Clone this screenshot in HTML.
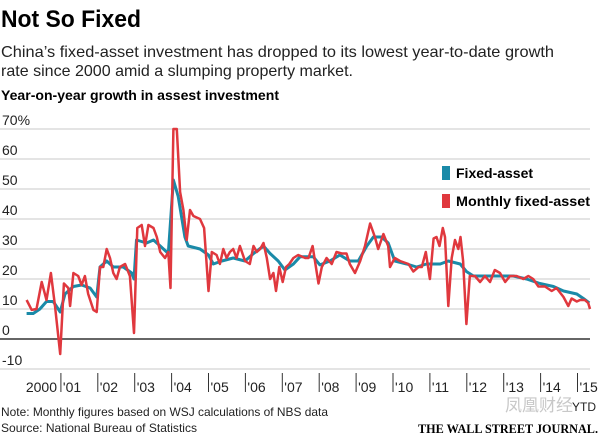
<!DOCTYPE html>
<html><head><meta charset="utf-8"><style>
html,body{margin:0;padding:0;background:#fff;}
svg{display:block;font-family:"Liberation Sans","Noto Sans CJK SC",sans-serif;}
</style></head><body>
<svg id="chart" width="600" height="435" viewBox="0 0 600 435">
<text x="1" y="27" font-size="24" font-weight="bold" textLength="140" lengthAdjust="spacingAndGlyphs">Not So Fixed</text>
<text x="1" y="57" font-size="16" fill="#222" textLength="553" lengthAdjust="spacingAndGlyphs">China’s fixed-asset investment  has dropped to its lowest year-to-date growth</text>
<text x="1" y="76" font-size="16" fill="#222" textLength="352" lengthAdjust="spacingAndGlyphs">rate since 2000 amid a slumping property market.</text>
<text x="1" y="100" font-size="14" font-weight="bold" textLength="278" lengthAdjust="spacingAndGlyphs">Year-on-year growth in assest investment</text>
<g id="grid"></g>
<g id="series"></g>
<g id="legend">
<rect x="442" y="166" width="8" height="14" fill="#1a8aa8"></rect>
<text x="456" y="178" font-size="14" font-weight="bold">Fixed-asset</text>
<rect x="442" y="194" width="8" height="14" fill="#e0383e"></rect>
<text x="456" y="206" font-size="14" font-weight="bold" textLength="134" lengthAdjust="spacingAndGlyphs">Monthly fixed-asset</text>
</g>
<text x="572" y="411" font-size="12" fill="#222">YTD</text>
<text x="505" y="411" font-size="17" fill="#c8c8c8">凤凰财经</text>
<text x="1" y="416" font-size="12" fill="#222" textLength="327" lengthAdjust="spacingAndGlyphs">Note: Monthly figures based on WSJ calculations of NBS data</text>
<text x="1" y="432" font-size="12" fill="#222" textLength="196" lengthAdjust="spacingAndGlyphs">Source: National Bureau of Statistics</text>
<text x="598" y="433" text-anchor="end" font-size="13" font-weight="bold" font-family="Liberation Serif,serif" textLength="180" lengthAdjust="spacingAndGlyphs">THE WALL STREET JOURNAL.</text>
</svg>
<script>
const yTicks = [-10, 0, 10, 20, 30, 40, 50, 60, 70];
const yearLabels = ["2000","'01","'02","'03","'04","'05","'06","'07","'08","'09","'10","'11","'12","'13","'14","'15"];
const monthlyT = [0.07,0.21,0.34,0.48,0.61,0.73,0.84,0.98,1.08,1.20,1.25,1.34,1.47,1.56,1.65,1.74,1.88,1.97,2.06,2.15,2.24,2.33,2.42,2.51,2.60,2.74,2.87,2.98,3.07,3.19,3.28,3.37,3.51,3.60,3.69,3.82,3.91,3.97,4.05,4.14,4.23,4.32,4.41,4.50,4.59,4.77,4.88,5.00,5.09,5.22,5.31,5.40,5.49,5.58,5.67,5.76,5.85,5.99,6.12,6.22,6.31,6.40,6.49,6.58,6.67,6.76,6.83,6.92,7.01,7.10,7.19,7.30,7.43,7.62,7.71,7.82,7.98,8.07,8.20,8.34,8.47,8.61,8.74,8.83,8.97,9.11,9.24,9.38,9.51,9.60,9.74,9.87,9.92,10.05,10.19,10.42,10.55,10.69,10.78,10.89,11.00,11.10,11.18,11.26,11.35,11.41,11.50,11.59,11.68,11.77,11.83,11.90,11.99,12.08,12.22,12.36,12.49,12.63,12.76,12.90,13.04,13.17,13.35,13.53,13.67,13.80,13.94,14.12,14.30,14.43,14.62,14.75,14.84,14.98,15.07,15.20,15.29,15.34];
const monthlyV = [13,9.7,10,19,13,22,11,-5,18.5,17,11,22,21,18,21,15,9.7,9,24,24,30,27,22,20,24,25,21,2,37,38,31,38,37,34,29,27,29,17,70,70,49,43,33,43,41,40,37,16,29,28,25,30,27,29,30,27,31,26,25,31,29,30,32,27,20,22,16,24,19,24,25,27,28,27,27,31,18.5,24,27,25,29,28.5,28.5,25,22,26,31,38.5,34,30,35,31,24,27,26,25,22.5,24,24,29,20,33.5,34,31,37,34,11,27,33,30,34,26,5,21,21,19,21,19,23,22,19,21,21,20,21,20,17.5,17.5,16,17,14,11,13.5,12.5,13,13,12,10];
const fixedT = [0.07,0.25,0.43,0.61,0.79,0.98,1.11,1.34,1.56,1.79,1.97,2.06,2.24,2.42,2.69,2.92,2.98,3.05,3.32,3.51,3.69,3.91,4.05,4.18,4.36,4.45,4.77,5.00,5.13,5.36,5.67,5.99,6.22,6.49,6.67,6.89,7.07,7.30,7.48,7.84,8.02,8.29,8.56,8.83,9.06,9.29,9.47,9.69,9.87,10.05,10.37,10.64,10.91,11.28,11.50,11.82,11.99,12.18,12.54,12.90,13.26,13.62,13.98,14.35,14.62,14.98,15.16,15.32];
const fixedV = [8.5,8.5,10,12.5,12.5,9,15,17.5,18,17,14,24,26,24,24,22,20,33,32,33,31,28.5,53,47.5,34,31,30,28,25,26,27,26,28.5,31,28.5,26,23,25,27.4,27.4,24.7,26,28,26,26,31,34,34,32,26,25,24,25,25,26,25,22.5,21,21,21,21,20,18.5,17.5,16,15,13.5,12];

const NS = "http://www.w3.org/2000/svg";
const x0 = 24, yearW = 36.9;
function xs(t){ return x0 + t * yearW; }
function ys(v){ return 339 - v * 3; }
function mk(tag, attrs, parent){
  const e = document.createElementNS(NS, tag);
  for (const k in attrs) e.setAttribute(k, attrs[k]);
  parent.appendChild(e);
  return e;
}
const grid = document.getElementById("grid");
yTicks.forEach(function(v){
  const ln = mk("line", {x1: 0, x2: 590, y1: ys(v), y2: ys(v), stroke: v === 0 ? "#333" : "#c8c8c8", "stroke-width": v === 0 ? 1.5 : 1}, grid);
  
  
  const tx = mk("text", {x: 2, y: ys(v) - 4, "font-size": 14, fill: "#222"}, grid);
  tx.textContent = v === 70 ? "70%" : String(v);
  
  
});
yearLabels.forEach(function(lab, i){
  if (i > 0) {
    const tk = mk("line", {x1: xs(i), x2: xs(i), y1: 373, y2: 392, stroke: "#333", "stroke-width": 1}, grid);
    
    
  }
  const tx = mk("text", {x: i === 0 ? xs(0) + 33 : xs(i) + 2, y: 392, "font-size": 14, fill: "#222", "text-anchor": i === 0 ? "end" : "start"}, grid);
  tx.textContent = lab;
  
  
});
const series = document.getElementById("series");
function pts(T, V){ return T.map(function(t, i){ return xs(t).toFixed(1) + "," + ys(V[i]).toFixed(1); }).join(" "); }
const fl = mk("polyline", {points: pts(fixedT, fixedV), fill: "none", stroke: "#1a8aa8", "stroke-width": 3, "stroke-linejoin": "round"}, series);


const ml = mk("polyline", {points: pts(monthlyT, monthlyV), fill: "none", stroke: "#e0383e", "stroke-width": 2.5, "stroke-linejoin": "round"}, series);


</script>
</body></html>
